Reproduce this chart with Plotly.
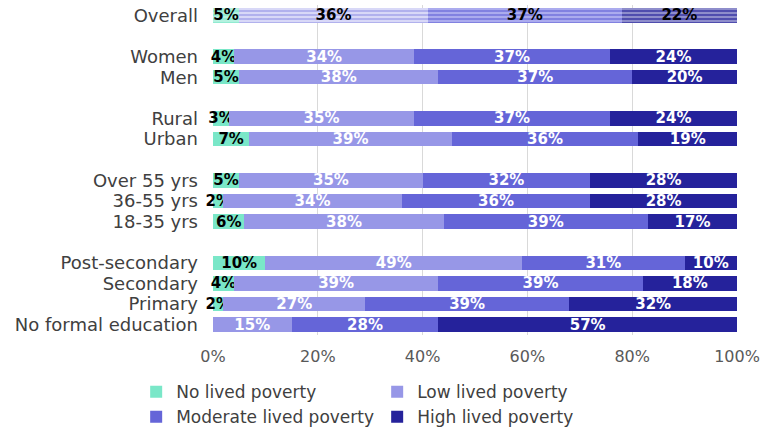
import plotly.graph_objects as go

categories = ["Overall",
              "Women", "Men",
              "Rural", "Urban",
              "Over 55 yrs", "36-55 yrs", "18-35 yrs",
              "Post-secondary", "Secondary", "Primary", "No formal education"]
groups = [1, 2, 2, 3, 3, 4, 4, 4, 5, 5, 5, 5]

no_lived = [5, 4, 5, 3, 7, 5, 2, 6, 10, 4, 2, 0]
low_lived = [36, 34, 38, 35, 39, 35, 34, 38, 49, 39, 27, 15]
moderate_lived = [37, 37, 37, 37, 36, 32, 36, 39, 31, 39, 39, 28]
high_lived = [22, 24, 20, 24, 19, 28, 28, 17, 10, 18, 32, 57]

series_names = ["No lived poverty", "Low lived poverty",
                "Moderate lived poverty", "High lived poverty"]
series_values = [no_lived, low_lived, moderate_lived, high_lived]
colors = ["#7AE7C8", "#9797E7", "#6565D8", "#25229B"]
light_colors = ["#B4F1DF", "#D8D8F7", "#ABABEE", "#8E8DCB"]
text_colors = ["#000000", "#FFFFFF", "#FFFFFF", "#FFFFFF"]

# row positions: one slot per row plus one empty slot between groups
positions = []
pos = -1
prev = None
for g in groups:
    pos += 1 if prev is None or g == prev else 2
    positions.append(pos)
    prev = g

FONT = "DejaVu Sans"
fig = go.Figure()

for name, vals, col, lcol, tcol in zip(series_names, series_values, colors,
                                       light_colors, text_colors):
    labels = [f"{v}%" if v > 0 else "" for v in vals]
    # regular rows
    fig.add_trace(go.Bar(
        name=name, orientation="h",
        x=vals[1:], y=positions[1:], text=labels[1:],
        marker=dict(color=col, line=dict(width=0)),
        textposition="inside", insidetextanchor="middle", constraintext="none",
        textangle=0, cliponaxis=False,
        textfont=dict(family=FONT, size=15, color=tcol, weight="bold"),
        legendgroup=name, showlegend=True,
    ))
    # overall row (faded with stripes)
    fig.add_trace(go.Bar(
        name=name, orientation="h",
        x=vals[:1], y=positions[:1], text=labels[:1],
        marker=dict(color=lcol, line=dict(width=0),
                    pattern=dict(shape="-", fgcolor=col, bgcolor=lcol,
                                 size=4, solidity=0.3, fillmode="replace")),
        textposition="inside", insidetextanchor="middle", constraintext="none",
        textangle=0, cliponaxis=False,
        textfont=dict(family=FONT, size=15, color="#000000", weight="bold"),
        legendgroup=name, showlegend=False,
    ))

fig.update_layout(
    width=765, height=435,
    barmode="stack", barnorm="percent", bargap=0.3,
    margin=dict(l=213, r=25, t=5, b=100),
    plot_bgcolor="white", paper_bgcolor="white",
    font=dict(family=FONT, color="#404040"),
    xaxis=dict(range=[0, 100], tickvals=[0, 20, 40, 60, 80, 100],
               ticktext=["0%", "20%", "40%", "60%", "80%", "100%"],
               showgrid=True, gridcolor="#D9D9D9", gridwidth=1,
               zeroline=False, showline=False,
               tickfont=dict(family=FONT, size=16, color="#595959"),
               ticklabelstandoff=10),
    yaxis=dict(range=[positions[-1] + 0.5, -0.5],
               tickvals=positions, ticktext=categories,
               showgrid=False, zeroline=False, showline=False,
               tickfont=dict(family=FONT, size=18, color="#404040"),
               ticklabelstandoff=14),
    legend=dict(orientation="h", xref="container", x=0.178, xanchor="left",
                yref="container", y=0.14, yanchor="top",
                entrywidth=196, entrywidthmode="pixels",
                itemwidth=30, traceorder="normal",
                font=dict(family=FONT, size=17, color="#404040")),
)

fig.write_html("out.html")
